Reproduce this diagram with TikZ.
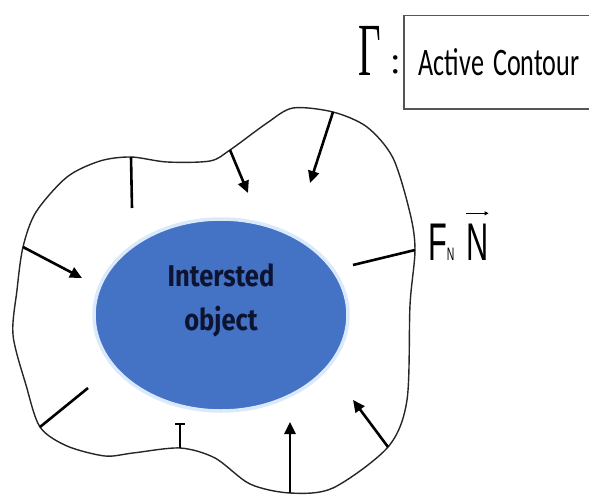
\documentclass[tikz,border=0pt]{standalone}
\usepackage{fontspec}
\usepackage{graphicx}
\usetikzlibrary{arrows.meta,shapes.geometric}
\newfontfamily\legendfont{Carlito}
\newfontfamily\greekfont{Liberation Serif}
\newfontfamily\forcefont{Liberation Sans}
\newfontfamily\objfont{Fira Sans}
\definecolor{objblue}{RGB}{68,114,196}
\definecolor{objglow}{RGB}{218,234,250}
\definecolor{objink}{RGB}{12,20,50}
\definecolor{boxgray}{RGB}{85,85,85}

\begin{document}
\begin{tikzpicture}[x=1pt,y=-1pt,
		contour/.style={line width=1.4pt, black!85},
		force/.style={line width=2.6pt, -{Triangle[length=12pt,width=11pt]}},
		normal/.style={line width=2.6pt},
		object/.style={ellipse, fill=objblue, draw=objglow, line width=3.5pt,
			minimum width=254pt, minimum height=192pt},
		legendbox/.style={draw=boxgray, line width=1.5pt, anchor=north west,
			minimum width=200pt, minimum height=93pt, inner xsep=15pt,
			text width=170pt, align=left}]
		\useasboundingbox (0,0) rectangle (589,495);

		% points on the contour where the forces act
		\coordinate (top) at (131,157);
		\coordinate (dip) at (230,150);
		\coordinate (peak) at (333,112);
		\coordinate (right) at (415,250);
		\coordinate (lowright) at (388,447);
		\coordinate (bottom) at (290,493);
		\coordinate (lowmid) at (180,448);
		\coordinate (lowleft) at (40,427);
		\coordinate (left) at (23,247);

		\draw[contour] plot[smooth cycle] coordinates {
			(top) (167,162) (210,161) (dip) (267,123) (293,108) (peak)
			(367,127) (393,158) (410,213) (right) (410,305) (407,400)
			(lowright) (333,488) (bottom) (250,484) (215,458) (lowmid)
			(133,453) (105,456) (67,446) (lowleft) (26,385) (13,335)
			(17,290) (left) (36,212) (67,177) (100,161)};

		\node[object] (obj) at (221,315) {};
		\node[text=objink, font=\objfont\bfseries\fontsize{30}{44}\selectfont]
			(objname) at ([yshift=15pt]obj.center)
			{\scalebox{0.85}[1]{\begin{tabular}{@{}c@{}}Intersted\\object\end{tabular}}};

		% ends of the force lines
		\coordinate (topend) at (132,208);
		\coordinate (dipend) at (248,193);
		\coordinate (peakend) at (310,183);
		\coordinate (rightend) at (353,265);
		\coordinate (lowrightend) at (353,400);
		\coordinate (bottomend) at (290,422);
		\coordinate (lowmidend) at (180,423);
		\coordinate (lowleftend) at (88,388);
		\coordinate (leftend) at (82,278);

		\draw[normal] (top) -- (topend);
		\draw[force] (dip) -- (dipend);
		\draw[force] (peak) -- (peakend);
		\draw[normal] (right) -- (rightend);
		\draw[force] (lowright) -- (lowrightend);
		\draw[force] (bottom) -- (bottomend);
		\draw[line width=2pt, -{Bar[width=10pt]}] (lowmid) -- (lowmidend);
		\draw[normal] (lowleft) -- (lowleftend);
		\draw[force] (left) -- (leftend);

		% force label
		\node[anchor=base west, inner sep=0pt] (fn) at (428,260)
			{\scalebox{0.58}[1]{\forcefont\fontsize{53}{53}\selectfont F\fontsize{18}{18}\selectfont N}};
		\node[anchor=base west, inner sep=0pt] (nvec) at (466,260)
			{\scalebox{0.58}[1]{\forcefont\fontsize{53}{53}\selectfont N}};
		\draw[line width=1pt, -{Triangle[length=4pt,width=4pt]}]
			([yshift=10pt]nvec.north west) -- ([yshift=10pt]nvec.north east);

		% legend
		\node[anchor=base west, inner sep=0pt] (gamma) at (358,75)
			{\scalebox{0.52}[1]{\greekfont\fontsize{75}{75}\selectfont Γ}};
		\node[anchor=base west, inner sep=0pt] (colon) at (390,74)
			{\greekfont\fontsize{38}{38}\selectfont :};
		\node[legendbox] (legend) at (403,15)
			{\scalebox{0.67}[1]{\legendfont\fontsize{39}{39}\selectfont Active\hspace{0.35em}Contour}};
	\end{tikzpicture}
\end{document}
